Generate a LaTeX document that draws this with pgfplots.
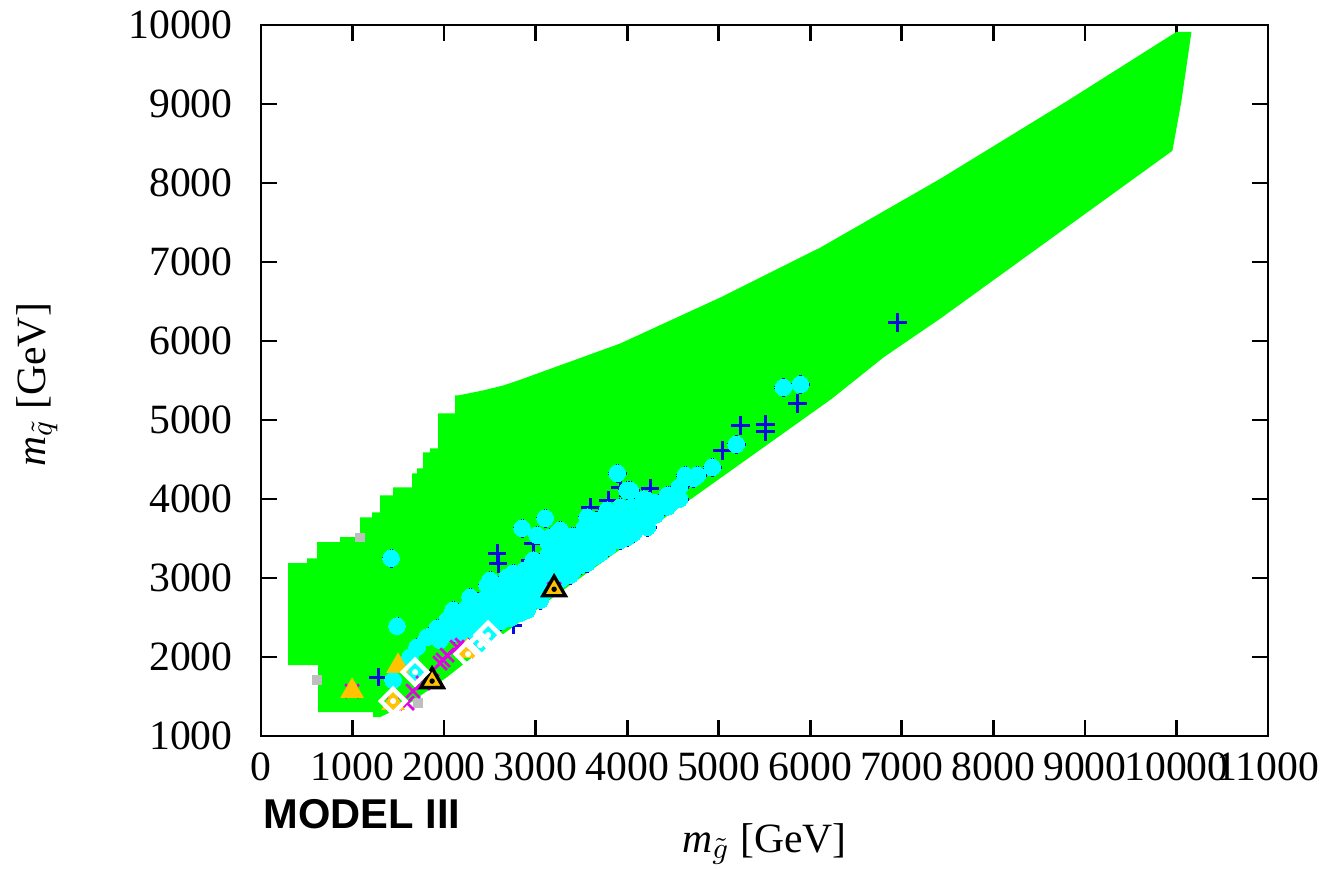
\documentclass[border=0pt]{standalone}
\usepackage{fontspec}
\setmainfont{Liberation Serif}
\setsansfont{Liberation Sans}
\usepackage{pgfplots}
\usepackage{pgfplotstable}
\pgfplotsset{compat=1.18}
\definecolor{sgreen}{RGB}{0,255,0}
\definecolor{scyan}{RGB}{0,255,255}
\definecolor{sblue}{RGB}{10,10,225}
\definecolor{smag}{RGB}{230,0,230}
\definecolor{sorange}{RGB}{255,195,0}
\definecolor{sgrey}{RGB}{190,190,190}
\pgfplotstableread{
x y
1421 3250
1486 2391
1443 1708
1683 1809
1628 1999
1705 2125
1814 2252
1924 2365
2033 2466
2142 2568
1956 2214
2066 2340
2208 2403
2317 2466
2393 2150
2481 2277
2579 2441
2721 2492
2907 2593
3049 2719
2503 2972
2754 3061
2940 2846
3891 4325
4634 4300
4721 4262
4033 4110
3781 3857
3563 3769
3924 3895
4219 3984
4361 3946
4470 3946
3104 3756
2852 3630
3246 3579
3016 3541
3158 3516
3410 3478
3705 3566
4000 3642
4142 3769
4284 3819
2973 3225
3235 3313
3486 3389
3781 3478
4066 3566
3486 3160
3268 3099
3924 3478
2689 3010
2470 2909
2831 2972
2973 3010
2284 2757
2470 2719
2689 2719
2907 2757
2098 2593
2361 2555
2612 2593
2831 2555
3344 3061
5705 5412
5891 5450
5191 4691
4929 4401
4667 4274
4765 4300
4448 3946
4251 3819
4000 4110
4142 3731
3628 3642
3454 3478
3344 3313
3486 3225
3705 3313
3924 3516
4066 3604
3268 3604
3377 3035
3563 3187
4000 3516
4219 3642
2100 2300
2100 2450
2230 2300
2230 2450
2230 2600
2360 2250
2360 2400
2360 2550
2360 2700
2490 2350
2490 2500
2490 2650
2490 2800
2620 2450
2620 2600
2620 2750
2620 2900
2750 2550
2750 2700
2750 2850
2750 3000
2880 2650
2880 2800
2880 2950
2880 3100
3010 2750
3010 2900
3010 3050
3010 3200
3140 2850
3140 3000
3140 3150
3140 3300
3140 3450
3270 2980
3270 3130
3270 3280
3270 3430
3400 3080
3400 3230
3400 3380
3400 3530
3530 3180
3530 3330
3530 3480
3530 3630
3660 3280
3660 3430
3660 3580
3660 3730
3790 3390
3790 3540
3790 3690
3790 3840
3920 3490
3920 3640
3920 3790
4050 3600
4050 3750
4050 3900
4180 3700
4180 3850
4180 4000
4310 3800
4310 3950
4440 3900
4440 4050
4570 4000
4570 4150
}\cyantab
\pgfplotstableread{
x y
6951 6234
5858 5210
5235 4932
5508 4944
5508 4856
5038 4616
4546 4047
4251 4135
3924 4148
3596 3895
3792 3983
2579 3313
2590 3187
2852 3124
1279 1746
1989 2239
2754 2403
2973 3440
}\plustab
\begin{document}
\begin{tikzpicture}
\begin{axis}[
  scale only axis, width=302.1pt, height=213.3pt,
  xmin=0, xmax=11000, ymin=1000, ymax=10000,
  xtick={0,1000,...,11000}, ytick={1000,2000,...,10000},
  scaled ticks=false,
  /pgf/number format/assume math mode=true,
  /pgf/number format/set thousands separator={},
  tick align=inside, major tick length=4.8pt,
  axis line style={line width=0.8pt},
  major tick style={line width=0.8pt, black},
  tick label style={font=\fontsize{12.5}{14}\selectfont},
  label style={font=\fontsize{12.5}{14}\selectfont},
  xticklabel style={yshift=-1.5pt},
  yticklabel style={xshift=-5pt},
  xlabel={\textit{m}$_{\tilde{g}}$ [GeV]},
  ylabel={\textit{m}$_{\tilde{q}}$ [GeV]},
  xlabel style={at={(rel axis cs:0.5,-0.152)}, anchor=center},
  ylabel style={at={(rel axis cs:-0.2224,0.494)}, anchor=center},
]
% allowed region
\addplot[fill=sgreen, draw=none] coordinates {
(295,3187) (503,3187) (503,3250) (612,3250) (612,3453) (863,3453) (863,3516)
(1082,3516) (1082,3769) (1213,3769) (1213,3832) (1301,3832) (1301,4047)
(1443,4047) (1443,4148) (1650,4148) (1650,4325) (1705,4325) (1705,4388)
(1770,4388) (1770,4590) (1847,4590) (1847,4641) (1934,4641) (1934,5083)
(2120,5083) (2120,5311) (2153,5311) (2426,5374) (2645,5437) (2809,5500)
(3923,5968) (5016,6550) (6109,7182) (7421,8054) (8809,9040) (10000,9913)
(10164,9913) (10055,9040) (9956,8408) (7421,6284) (6798,5791) (6240,5273)
(3268,2820) (2393,2075) (2033,1746) (1628,1417) (1301,1240) (1224,1240)
(1224,1303) (623,1303) (623,1898) (295,1898)
} -- cycle;
% grey points
\addplot[only marks, mark=square*, mark size=1.2pt, color=sgrey] coordinates {
(1082,3516) (612,1708) (1716,1417)
};
% blue plus (all cyan points plus extra ones)
\addplot[only marks, mark=+, mark size=2.8pt, line width=0.9pt, color=sblue] table[x=x, y=y] {\plustab};
\addplot[only marks, mark=+, mark size=2.8pt, line width=0.9pt, color=sblue] table[x=x, y=y] {\cyantab};
% cyan circles
\addplot[only marks, mark=*, mark size=2.5pt, mark options={fill=scyan, draw=scyan, line width=0pt}] table[x=x, y=y] {\cyantab};
% magenta crosses
\addplot[only marks, mark=x, mark size=2.9pt, line width=0.8pt, color=smag] coordinates {
(995,1569) (1869,1695) (3202,2858) (1443,1417) (2251,2075)
(1596,1417) (1661,1569) (1770,1670) (1956,1923) (2033,2024) (2142,2125)
(1989,1961) (2197,2150)
};
% orange triangles
\addplot[only marks, mark=triangle*, mark size=3.9pt, mark options={fill=sorange, draw=sorange, line width=0.2pt}] coordinates {
(995,1569) (1497,1885) (1443,1417) (2251,2075)
};
% orange triangles with black edge
\addplot[only marks, mark=triangle*, mark size=3.9pt, mark options={fill=sorange, draw=black, line width=1pt}] coordinates {
(1869,1695) (3202,2858)
};
\addplot[only marks, mark=*, mark size=0.6pt, color=black] coordinates {
(1869,1695) (3202,2858)
};
% white diamonds
\addplot[only marks, mark=square, mark size=2.6pt, mark options={rotate=45, draw=white, line width=1.3pt}] coordinates {
(1443,1442) (1683,1809) (2262,2037) (2393,2150) (2481,2277)
};
\addplot[only marks, mark=*, mark size=0.7pt, mark options={fill=white, draw=white}] coordinates {
(1443,1442) (1683,1809) (2262,2037) (2393,2150) (2481,2277)
};
\coordinate (bbsw) at (rel axis cs:-0.2592,-0.1871);
\coordinate (bbne) at (rel axis cs:1.0616,1.0352);
\coordinate (mlab) at (rel axis cs:0.002,-0.1097);
\end{axis}
\node[anchor=west, inner sep=0pt, font=\sffamily\bfseries\fontsize{12.5}{14}\selectfont] at (mlab) {MODEL III};
\pgfresetboundingbox
\path[use as bounding box] (bbsw) rectangle (bbne);
\end{tikzpicture}
\end{document}
